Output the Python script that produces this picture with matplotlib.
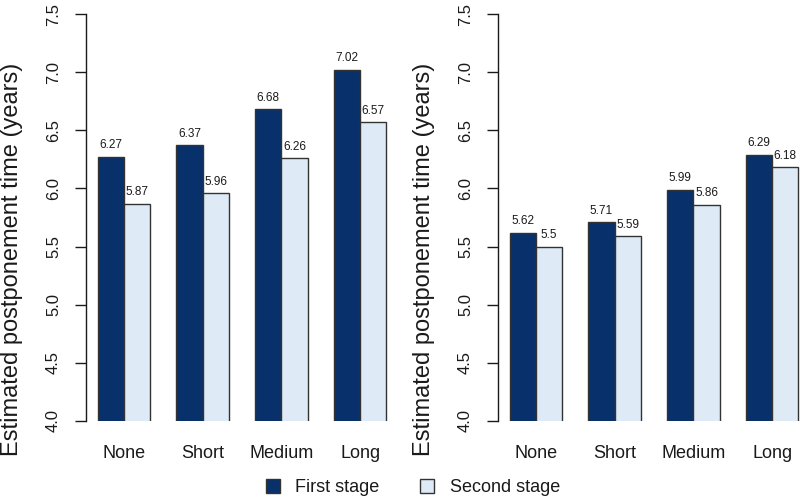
import matplotlib
matplotlib.use("Agg")
import matplotlib.pyplot as plt
from matplotlib.lines import Line2D
import numpy as np

plt.rcParams['font.family'] = ['Liberation Sans', 'DejaVu Sans']

categories = ["None", "Short", "Medium", "Long"]
left_first = [6.27, 6.37, 6.68, 7.02]
left_second = [5.87, 5.96, 6.26, 6.57]
right_first = [5.62, 5.71, 5.99, 6.29]
right_second = [5.50, 5.59, 5.86, 6.18]
value_labels_left_first = ["6.27", "6.37", "6.68", "7.02"]
value_labels_left_second = ["5.87", "5.96", "6.26", "6.57"]
value_labels_right_first = ["5.62", "5.71", "5.99", "6.29"]
value_labels_right_second = ["5.5", "5.59", "5.86", "6.18"]
yticks = [4.0, 4.5, 5.0, 5.5, 6.0, 6.5, 7.0, 7.5]
series_names = ["First stage", "Second stage"]

dark = "#08306B"
light = "#DEEBF7"
edge = "#333333"
txt = "#1a1a1a"

W, H = 800, 500
fig = plt.figure(figsize=(8, 5), dpi=100)

def make_axes(left_px, first, second, lab1, lab2):
    ax = fig.add_axes([left_px / W, (H - 421) / H, 312 / W, 407 / H])
    idx = np.arange(len(categories))
    x1 = 3 * idx + 1.5
    x2 = 3 * idx + 2.5
    ax.bar(x1, first, width=1.0, bottom=0, color=dark, edgecolor=edge, linewidth=1.0)
    ax.bar(x2, second, width=1.0, bottom=0, color=light, edgecolor=edge, linewidth=1.0)
    for x, v, s in zip(x1, first, lab1):
        ax.annotate(s, (x, v), xytext=(0, 4), textcoords='offset points',
                    ha='center', va='bottom', fontsize=8.5, color=txt)
    for x, v, s in zip(x2, second, lab2):
        ax.annotate(s, (x, v), xytext=(0, 4), textcoords='offset points',
                    ha='center', va='bottom', fontsize=8.5, color=txt)
    ax.set_xlim(0.56, 12.44)
    ax.set_ylim(4.0, 7.5)
    for sp in ["top", "right", "bottom"]:
        ax.spines[sp].set_visible(False)
    ax.spines["left"].set_bounds(4.0, 7.5)
    ax.spines["left"].set_linewidth(1.0)
    ax.spines["left"].set_color(txt)
    ax.set_yticks(yticks)
    ax.set_yticklabels([f"{t:.1f}" for t in yticks])
    ax.tick_params(axis='y', length=8, width=1.0, pad=10, labelsize=12, colors=txt)
    for lab in ax.get_yticklabels():
        lab.set_rotation(90)
        lab.set_va('center')
    ax.set_xticks([])
    for c, cat in zip(3 * idx + 2.0, categories):
        ax.text(c, -32 / 407, cat, transform=ax.get_xaxis_transform(),
                ha='center', va='center', fontsize=13, color=txt)
    ax.set_ylabel("Estimated postponement time (years)", fontsize=17, color=txt)
    ax.yaxis.label.set_va('baseline')
    ax.yaxis.set_label_coords(-68 / 312, 0.396)
    ax.patch.set_alpha(0)
    return ax

make_axes(86, left_first, left_second, value_labels_left_first, value_labels_left_second)
make_axes(498, right_first, right_second, value_labels_right_first, value_labels_right_second)

handles = [Line2D([], [], linestyle='none', marker='s', markersize=10,
                  markerfacecolor=dark, markeredgecolor=edge, markeredgewidth=1.0),
           Line2D([], [], linestyle='none', marker='s', markersize=10,
                  markerfacecolor=light, markeredgecolor=edge, markeredgewidth=1.0)]
fig.legend(handles, series_names, loc='center', bbox_to_anchor=(412.5 / W, 1 - 488 / H),
           ncol=2, frameon=False, fontsize=13, handlelength=0.9, handletextpad=0.8,
           columnspacing=2.2, labelcolor=txt)

fig.savefig("out.png", dpi=100)
